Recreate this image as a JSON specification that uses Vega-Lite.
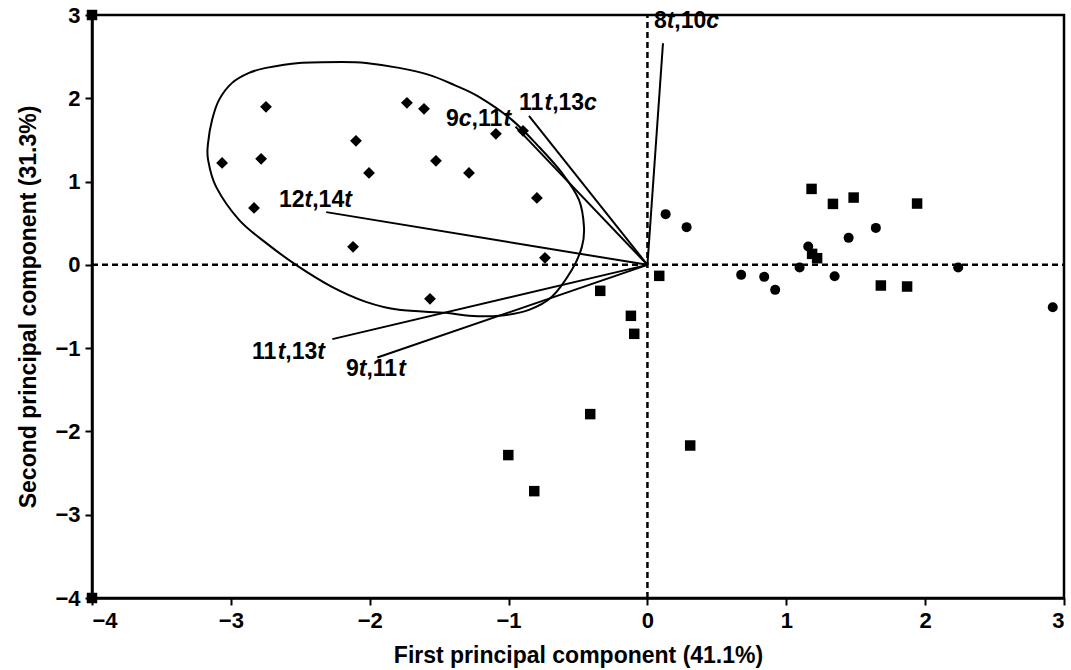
{
  "$schema": "https://vega.github.io/schema/vega-lite/v6.json",
  "width": 972,
  "height": 583,
  "autosize": {"type": "none"},
  "padding": {"left": 92, "top": 15, "right": 7, "bottom": 72},
  "background": "white",
  "config": {
    "view": {"stroke": "black", "strokeWidth": 2.5},
    "font": "Liberation Sans",
    "axis": {
      "grid": false,
      "domainColor": "black",
      "domainWidth": 2.5,
      "tickColor": "black",
      "tickWidth": 2,
      "tickSize": 7,
      "labelFont": "Liberation Sans",
      "labelFontSize": 22,
      "labelFontWeight": "bold",
      "labelColor": "black",
      "titleFont": "Liberation Sans",
      "titleFontSize": 23,
      "titleFontWeight": "bold",
      "titleColor": "black"
    }
  },
  "data": {
    "values": [
      {"kind": "hline", "x": -4, "y": 0, "x2": 3, "y2": 0},
      {"kind": "vline", "x": 0, "y": -4, "x2": 0, "y2": 3},

      {"kind": "vec", "name": "8t,10c", "x": 0, "y": 0, "x2": 0.112, "y2": 2.661},
      {"kind": "vec", "name": "11t,13c", "x": 0, "y": 0, "x2": -0.853, "y2": 1.789},
      {"kind": "vec", "name": "9c,11t", "x": 0, "y": 0, "x2": -0.95, "y2": 1.66},
      {"kind": "vec", "name": "12t,14t", "x": 0, "y": 0, "x2": -2.313, "y2": 0.633},
      {"kind": "vec", "name": "11t,13t", "x": 0, "y": 0, "x2": -2.269, "y2": -0.892},
      {"kind": "vec", "name": "9t,11t", "x": 0, "y": 0, "x2": -1.945, "y2": -1.113},

      {"kind": "ellipse", "order": 1, "x": -3.164, "y": 1.465},
      {"kind": "ellipse", "order": 2, "x": -3.135, "y": 1.741},
      {"kind": "ellipse", "order": 3, "x": -3.085, "y": 1.981},
      {"kind": "ellipse", "order": 4, "x": -2.991, "y": 2.185},
      {"kind": "ellipse", "order": 5, "x": -2.869, "y": 2.305},
      {"kind": "ellipse", "order": 6, "x": -2.747, "y": 2.365},
      {"kind": "ellipse", "order": 7, "x": -2.509, "y": 2.425},
      {"kind": "ellipse", "order": 8, "x": -2.2, "y": 2.437},
      {"kind": "ellipse", "order": 9, "x": -2.027, "y": 2.425},
      {"kind": "ellipse", "order": 10, "x": -1.789, "y": 2.365},
      {"kind": "ellipse", "order": 11, "x": -1.573, "y": 2.281},
      {"kind": "ellipse", "order": 12, "x": -1.393, "y": 2.161},
      {"kind": "ellipse", "order": 13, "x": -1.213, "y": 2.017},
      {"kind": "ellipse", "order": 14, "x": -0.976, "y": 1.741},
      {"kind": "ellipse", "order": 15, "x": -0.781, "y": 1.417},
      {"kind": "ellipse", "order": 16, "x": -0.616, "y": 1.104},
      {"kind": "ellipse", "order": 17, "x": -0.493, "y": 0.78},
      {"kind": "ellipse", "order": 18, "x": -0.457, "y": 0.456},
      {"kind": "ellipse", "order": 19, "x": -0.472, "y": 0.216},
      {"kind": "ellipse", "order": 20, "x": -0.544, "y": -0.06},
      {"kind": "ellipse", "order": 21, "x": -0.688, "y": -0.384},
      {"kind": "ellipse", "order": 22, "x": -0.853, "y": -0.54},
      {"kind": "ellipse", "order": 23, "x": -1.069, "y": -0.612},
      {"kind": "ellipse", "order": 24, "x": -1.285, "y": -0.612},
      {"kind": "ellipse", "order": 25, "x": -1.451, "y": -0.576},
      {"kind": "ellipse", "order": 26, "x": -1.789, "y": -0.54},
      {"kind": "ellipse", "order": 27, "x": -2.027, "y": -0.444},
      {"kind": "ellipse", "order": 28, "x": -2.272, "y": -0.264},
      {"kind": "ellipse", "order": 29, "x": -2.531, "y": 0.0},
      {"kind": "ellipse", "order": 30, "x": -2.747, "y": 0.264},
      {"kind": "ellipse", "order": 31, "x": -2.941, "y": 0.54},
      {"kind": "ellipse", "order": 32, "x": -3.106, "y": 0.936},
      {"kind": "ellipse", "order": 33, "x": -3.164, "y": 1.261},

      {"kind": "diamond", "x": -3.063, "y": 1.224},
      {"kind": "diamond", "x": -2.747, "y": 1.897},
      {"kind": "diamond", "x": -2.782, "y": 1.273},
      {"kind": "diamond", "x": -2.833, "y": 0.684},
      {"kind": "diamond", "x": -2.099, "y": 1.489},
      {"kind": "diamond", "x": -2.005, "y": 1.104},
      {"kind": "diamond", "x": -2.12, "y": 0.216},
      {"kind": "diamond", "x": -1.732, "y": 1.945},
      {"kind": "diamond", "x": -1.609, "y": 1.873},
      {"kind": "diamond", "x": -1.523, "y": 1.249},
      {"kind": "diamond", "x": -1.285, "y": 1.104},
      {"kind": "diamond", "x": -1.091, "y": 1.573},
      {"kind": "diamond", "x": -0.896, "y": 1.609},
      {"kind": "diamond", "x": -0.796, "y": 0.804},
      {"kind": "diamond", "x": -0.738, "y": 0.084},
      {"kind": "diamond", "x": -1.566, "y": -0.408},

      {"kind": "circle", "x": 0.131, "y": 0.609},
      {"kind": "circle", "x": 0.282, "y": 0.453},
      {"kind": "circle", "x": 0.675, "y": -0.12},
      {"kind": "circle", "x": 0.841, "y": -0.144},
      {"kind": "circle", "x": 0.92, "y": -0.3},
      {"kind": "circle", "x": 1.096, "y": -0.032},
      {"kind": "circle", "x": 1.158, "y": 0.22},
      {"kind": "circle", "x": 1.348, "y": -0.136},
      {"kind": "circle", "x": 1.449, "y": 0.324},
      {"kind": "circle", "x": 1.645, "y": 0.444},
      {"kind": "circle", "x": 2.238, "y": -0.032},
      {"kind": "circle", "x": 2.919, "y": -0.508},

      {"kind": "square", "x": 1.182, "y": 0.912},
      {"kind": "square", "x": 1.336, "y": 0.732},
      {"kind": "square", "x": 1.485, "y": 0.808},
      {"kind": "square", "x": 1.942, "y": 0.736},
      {"kind": "square", "x": 1.186, "y": 0.132},
      {"kind": "square", "x": 1.222, "y": 0.08},
      {"kind": "square", "x": 0.085, "y": -0.132},
      {"kind": "square", "x": 1.681, "y": -0.248},
      {"kind": "square", "x": 1.87, "y": -0.26},
      {"kind": "square", "x": -0.34, "y": -0.312},
      {"kind": "square", "x": -0.119, "y": -0.612},
      {"kind": "square", "x": -0.095, "y": -0.828},
      {"kind": "square", "x": -0.412, "y": -1.792},
      {"kind": "square", "x": -1.002, "y": -2.284},
      {"kind": "square", "x": -0.815, "y": -2.717},
      {"kind": "square", "x": 0.308, "y": -2.169},
      {"kind": "square", "x": -4, "y": 3},
      {"kind": "square", "x": -4, "y": -4},

      {"kind": "label", "style": "normal", "part": "8", "x": 0.047, "y": 2.929},
      {"kind": "label", "style": "italic", "part": "t", "x": 0.139, "y": 2.929},
      {"kind": "label", "style": "normal", "part": ",10", "x": 0.194, "y": 2.929},
      {"kind": "label", "style": "italic", "part": "c", "x": 0.424, "y": 2.929},

      {"kind": "label", "style": "normal", "part": "11", "x": -0.925, "y": 1.939},
      {"kind": "label", "style": "italic", "part": "t", "x": -0.741, "y": 1.939},
      {"kind": "label", "style": "normal", "part": ",13", "x": -0.686, "y": 1.939},
      {"kind": "label", "style": "italic", "part": "c", "x": -0.456, "y": 1.939},

      {"kind": "label", "style": "normal", "part": "9", "x": -1.451, "y": 1.753},
      {"kind": "label", "style": "italic", "part": "c", "x": -1.359, "y": 1.753},
      {"kind": "label", "style": "normal", "part": ",11", "x": -1.267, "y": 1.753},
      {"kind": "label", "style": "italic", "part": "t", "x": -1.037, "y": 1.753},

      {"kind": "label", "style": "normal", "part": "12", "x": -2.653, "y": 0.78},
      {"kind": "label", "style": "italic", "part": "t", "x": -2.469, "y": 0.78},
      {"kind": "label", "style": "normal", "part": ",14", "x": -2.414, "y": 0.78},
      {"kind": "label", "style": "italic", "part": "t", "x": -2.184, "y": 0.78},

      {"kind": "label", "style": "normal", "part": "11", "x": -2.847, "y": -1.05},
      {"kind": "label", "style": "italic", "part": "t", "x": -2.663, "y": -1.05},
      {"kind": "label", "style": "normal", "part": ",13", "x": -2.608, "y": -1.05},
      {"kind": "label", "style": "italic", "part": "t", "x": -2.378, "y": -1.05},

      {"kind": "label", "style": "normal", "part": "9", "x": -2.171, "y": -1.254},
      {"kind": "label", "style": "italic", "part": "t", "x": -2.079, "y": -1.254},
      {"kind": "label", "style": "normal", "part": ",11", "x": -2.024, "y": -1.254},
      {"kind": "label", "style": "italic", "part": "t", "x": -1.794, "y": -1.254}
    ]
  },
  "encoding": {
    "x": {
      "field": "x",
      "type": "quantitative",
      "scale": {"domain": [-4, 3], "nice": false, "zero": false},
      "axis": {
        "title": "First principal component (41.1%)",
        "values": [-4, -3, -2, -1, 0, 1, 2, 3],
        "format": "d",
        "labelPadding": 5,
        "titlePadding": 13
      }
    },
    "y": {
      "field": "y",
      "type": "quantitative",
      "scale": {"domain": [-4, 3], "nice": false, "zero": false},
      "axis": {
        "title": "Second principal component (31.3%)",
        "values": [-4, -3, -2, -1, 0, 1, 2, 3],
        "format": "d",
        "labelPadding": 5,
        "titlePadding": 14
      }
    }
  },
  "layer": [
    {
      "transform": [{"filter": "datum.kind === 'hline' || datum.kind === 'vline'"}],
      "mark": {"type": "rule", "color": "black", "strokeWidth": 2.5, "strokeDash": [6, 4]},
      "encoding": {"x2": {"field": "x2"}, "y2": {"field": "y2"}}
    },
    {
      "transform": [{"filter": "datum.kind === 'vec'"}],
      "mark": {"type": "rule", "color": "black", "strokeWidth": 2},
      "encoding": {"x2": {"field": "x2"}, "y2": {"field": "y2"}}
    },
    {
      "transform": [{"filter": "datum.kind === 'ellipse'"}],
      "mark": {"type": "line", "color": "black", "strokeWidth": 2, "interpolate": "cardinal-closed"},
      "encoding": {"order": {"field": "order", "type": "quantitative"}}
    },
    {
      "transform": [{"filter": "datum.kind === 'diamond'"}],
      "mark": {"type": "point", "shape": "diamond", "filled": true, "color": "black", "opacity": 1, "size": 140}
    },
    {
      "transform": [{"filter": "datum.kind === 'circle'"}],
      "mark": {"type": "point", "shape": "circle", "filled": true, "color": "black", "opacity": 1, "size": 100}
    },
    {
      "transform": [{"filter": "datum.kind === 'square'"}],
      "mark": {"type": "point", "shape": "square", "filled": true, "color": "black", "opacity": 1, "size": 110}
    },
    {
      "transform": [{"filter": "datum.kind === 'label' && datum.style === 'normal'"}],
      "mark": {"type": "text", "align": "left", "baseline": "middle", "font": "Liberation Sans", "fontSize": 23, "fontWeight": "bold", "color": "black"},
      "encoding": {"text": {"field": "part"}}
    },
    {
      "transform": [{"filter": "datum.kind === 'label' && datum.style === 'italic'"}],
      "mark": {"type": "text", "align": "left", "baseline": "middle", "font": "Liberation Sans", "fontSize": 23, "fontWeight": "bold", "fontStyle": "italic", "color": "black"},
      "encoding": {"text": {"field": "part"}}
    }
  ]
}
